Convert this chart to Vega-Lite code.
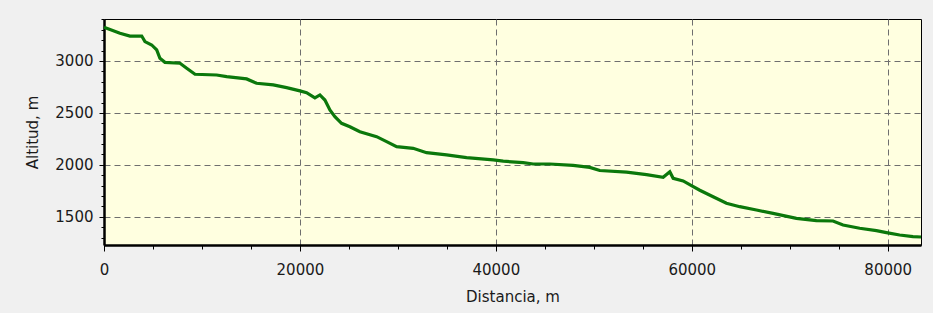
{
  "$schema": "https://vega.github.io/schema/vega-lite/v6.json",
  "width": 817,
  "height": 226,
  "autosize": {"type": "none"},
  "padding": {"left": 104, "top": 19, "right": 12, "bottom": 68},
  "background": "#f0f0f0",
  "config": {
    "view": {"fill": "#ffffe0", "stroke": "#000000", "strokeWidth": 1},
    "font": "DejaVu Sans",
    "axis": {
      "labelFont": "DejaVu Sans",
      "titleFont": "DejaVu Sans",
      "labelFontSize": 15,
      "titleFontSize": 15,
      "titleFontWeight": "normal",
      "labelColor": "#1a1a1a",
      "titleColor": "#1a1a1a"
    }
  },
  "data": {
    "values": [
      {"d": 0, "alt": 3325},
      {"d": 1630, "alt": 3267},
      {"d": 2650, "alt": 3240},
      {"d": 3850, "alt": 3240},
      {"d": 4180, "alt": 3186},
      {"d": 4870, "alt": 3154},
      {"d": 5380, "alt": 3106},
      {"d": 5710, "alt": 3026},
      {"d": 6220, "alt": 2987},
      {"d": 7760, "alt": 2978},
      {"d": 8440, "alt": 2930},
      {"d": 9290, "alt": 2872},
      {"d": 11500, "alt": 2865},
      {"d": 12520, "alt": 2849},
      {"d": 14560, "alt": 2827},
      {"d": 15580, "alt": 2785},
      {"d": 17280, "alt": 2769},
      {"d": 18640, "alt": 2743},
      {"d": 20000, "alt": 2712},
      {"d": 20680, "alt": 2695},
      {"d": 21530, "alt": 2645},
      {"d": 22040, "alt": 2673},
      {"d": 22550, "alt": 2624},
      {"d": 23060, "alt": 2528},
      {"d": 23570, "alt": 2464},
      {"d": 24250, "alt": 2400},
      {"d": 25100, "alt": 2367},
      {"d": 26120, "alt": 2319},
      {"d": 27830, "alt": 2271},
      {"d": 28850, "alt": 2223},
      {"d": 29870, "alt": 2175},
      {"d": 31560, "alt": 2159},
      {"d": 32930, "alt": 2117},
      {"d": 34970, "alt": 2095},
      {"d": 37010, "alt": 2069},
      {"d": 39730, "alt": 2047},
      {"d": 40750, "alt": 2035},
      {"d": 42790, "alt": 2021},
      {"d": 43810, "alt": 2008},
      {"d": 45510, "alt": 2008},
      {"d": 47890, "alt": 1995},
      {"d": 49590, "alt": 1975},
      {"d": 50610, "alt": 1945},
      {"d": 53340, "alt": 1930},
      {"d": 55380, "alt": 1905},
      {"d": 57080, "alt": 1880},
      {"d": 57760, "alt": 1934},
      {"d": 58100, "alt": 1870},
      {"d": 59120, "alt": 1845},
      {"d": 59970, "alt": 1800},
      {"d": 60820, "alt": 1755},
      {"d": 62180, "alt": 1693},
      {"d": 63540, "alt": 1630},
      {"d": 64900, "alt": 1597},
      {"d": 66600, "alt": 1565},
      {"d": 68300, "alt": 1533},
      {"d": 70680, "alt": 1485},
      {"d": 72720, "alt": 1462},
      {"d": 74420, "alt": 1459},
      {"d": 75440, "alt": 1421},
      {"d": 77140, "alt": 1389},
      {"d": 78850, "alt": 1366},
      {"d": 79870, "alt": 1347},
      {"d": 81220, "alt": 1324},
      {"d": 82580, "alt": 1308},
      {"d": 83400, "alt": 1305}
    ]
  },
  "layer": [
    {
      "mark": {"type": "line", "opacity": 0},
      "encoding": {
        "x": {
          "field": "d", "type": "quantitative",
          "scale": {"domain": [0, 83400], "nice": false, "zero": false},
          "axis": {
            "orient": "bottom", "values": [5000, 10000, 15000, 25000, 30000, 35000, 45000, 50000, 55000, 65000, 70000, 75000],
            "labels": false, "grid": false, "domain": false, "title": null,
            "tickSize": 4, "tickColor": "#000000", "tickWidth": 1
          }
        },
        "y": {
          "field": "alt", "type": "quantitative",
          "scale": {"domain": [1228, 3404], "nice": false, "zero": false},
          "axis": {
            "orient": "left", "values": [1300, 1400, 1600, 1700, 1800, 1900, 2100, 2200, 2300, 2400, 2600, 2700, 2800, 2900, 3100, 3200, 3300, 3400],
            "labels": false, "grid": false, "domain": false, "title": null,
            "tickSize": 3, "tickColor": "#000000", "tickWidth": 1
          }
        }
      }
    },
    {
      "mark": {"type": "line", "color": "#0b780b", "strokeWidth": 3.2, "strokeJoin": "miter"},
      "encoding": {
        "x": {
          "field": "d", "type": "quantitative",
          "scale": {"domain": [0, 83400], "nice": false, "zero": false},
          "axis": {
            "orient": "bottom", "values": [0, 20000, 40000, 60000, 80000],
            "format": "d", "title": "Distancia, m",
            "grid": true, "gridColor": "#6e6e6e", "gridDash": [6, 4], "gridWidth": 1,
            "domainColor": "#000000", "domainWidth": 2.5,
            "tickColor": "#000000", "tickSize": 6, "tickWidth": 1,
            "labelPadding": 11, "titlePadding": 12, "labelFlush": false
          }
        },
        "y": {
          "field": "alt", "type": "quantitative",
          "scale": {"domain": [1228, 3404], "nice": false, "zero": false},
          "axis": {
            "orient": "left", "values": [1500, 2000, 2500, 3000],
            "format": "d", "title": "Altitud, m",
            "grid": true, "gridColor": "#6e6e6e", "gridDash": [6, 4], "gridWidth": 1,
            "domainColor": "#000000", "domainWidth": 2.5,
            "tickColor": "#000000", "tickSize": 5, "tickWidth": 1,
            "labelPadding": 6, "titlePadding": 14
          }
        }
      }
    }
  ],
  "resolve": {"axis": {"x": "independent", "y": "independent"}}
}
